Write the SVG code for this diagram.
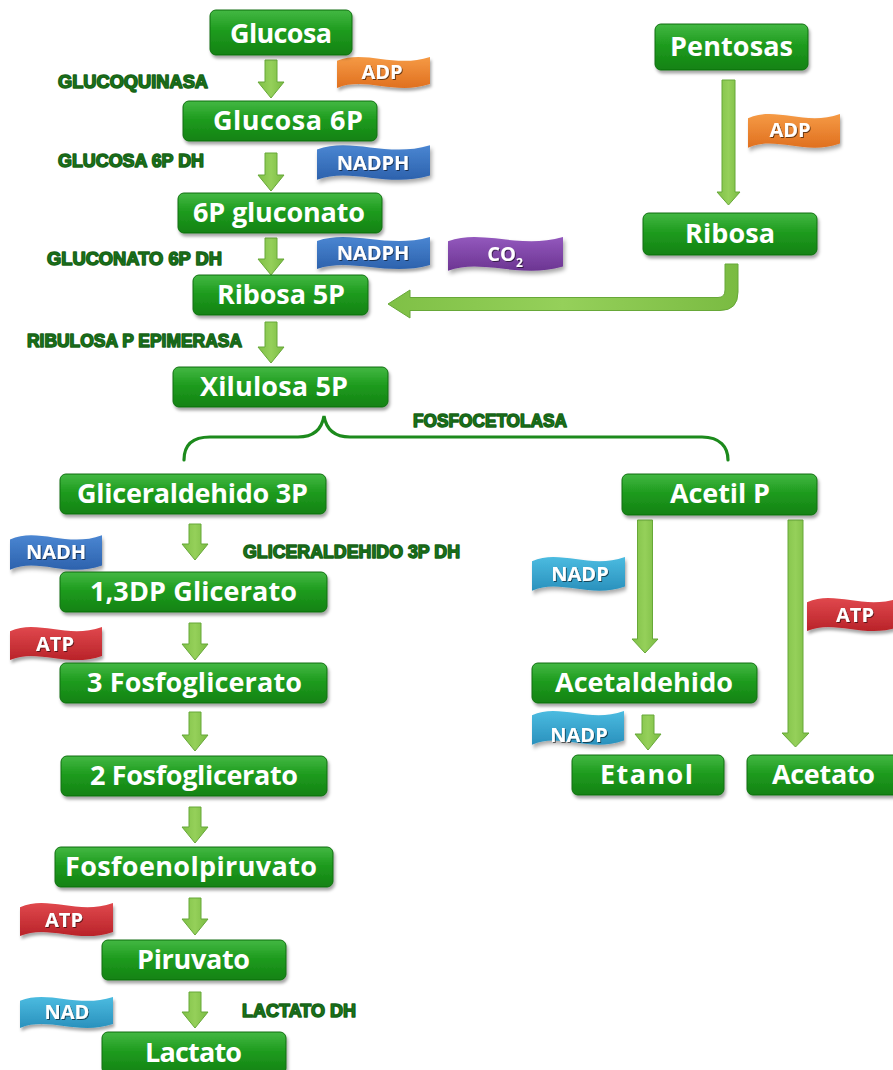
<svg xmlns="http://www.w3.org/2000/svg" width="893" height="1070" viewBox="0 0 893 1070">
  <style>
    .box { fill: url(#gBox); stroke: #0e6f0e; stroke-width: 1; filter: url(#shadow); }
    .lbl { font-family: "Open Sans", "Noto Sans", sans-serif; font-weight: 700; font-size: 27px; fill: #ffffff; }
    .enz { font-family: "Liberation Sans", Arial, sans-serif; font-weight: 700; font-size: 18px; fill: #1c781c; stroke: #176417; stroke-width: 1.5; stroke-linejoin: round; }
    .arr { fill: url(#gArrow); stroke: #67a838; stroke-width: 1; }
    .brace { fill: none; stroke: #1c8a1c; stroke-width: 3.2; stroke-linecap: round; }
    .flagtxt { font-family: "Open Sans", "Noto Sans", sans-serif; font-weight: 700; font-size: 20px; fill: #ffffff; text-anchor: middle; filter: url(#txtShadow); }
  </style>
  <defs>
    <linearGradient id="gBox" x1="0" y1="0" x2="0" y2="1">
      <stop offset="0" stop-color="#43b843"/>
      <stop offset="0.45" stop-color="#1f9c1f"/>
      <stop offset="1" stop-color="#138213"/>
    </linearGradient>
    <linearGradient id="gArrow" x1="0" y1="0" x2="1" y2="0">
      <stop offset="0" stop-color="#7fc046"/>
      <stop offset="0.5" stop-color="#95d05a"/>
      <stop offset="1" stop-color="#7abb42"/>
    </linearGradient>
    <linearGradient id="gOrange" x1="0" y1="0" x2="0" y2="1">
      <stop offset="0" stop-color="#f59a45"/>
      <stop offset="1" stop-color="#e0701f"/>
    </linearGradient>
    <linearGradient id="gBlue" x1="0" y1="0" x2="0" y2="1">
      <stop offset="0" stop-color="#4a86d2"/>
      <stop offset="1" stop-color="#2d62ad"/>
    </linearGradient>
    <linearGradient id="gPurple" x1="0" y1="0" x2="0" y2="1">
      <stop offset="0" stop-color="#9358bd"/>
      <stop offset="1" stop-color="#6c3592"/>
    </linearGradient>
    <linearGradient id="gRed" x1="0" y1="0" x2="0" y2="1">
      <stop offset="0" stop-color="#e0484d"/>
      <stop offset="1" stop-color="#b92329"/>
    </linearGradient>
    <linearGradient id="gCyan" x1="0" y1="0" x2="0" y2="1">
      <stop offset="0" stop-color="#4bbbe0"/>
      <stop offset="1" stop-color="#2a91bd"/>
    </linearGradient>
    <filter id="shadow" x="-10%" y="-20%" width="130%" height="160%">
      <feDropShadow dx="1.5" dy="3" stdDeviation="1.8" flood-color="#000" flood-opacity="0.35"/>
    </filter>
    <filter id="txtShadow" x="-10%" y="-20%" width="130%" height="160%">
      <feDropShadow dx="1" dy="1" stdDeviation="0.6" flood-color="#000" flood-opacity="0.55"/>
    </filter>
    <!-- wave-shaped cofactor banner, 100 x 36 unit box -->
    <path id="flag" d="M0,6 C30,-6 62,14 100,2 L100,30 C62,42 30,22 0,34 Z"/>
  </defs>

  <rect width="893" height="1070" fill="#ffffff"/>

  <!-- connectors -->
  <g id="connectors">
    <path class="arr" d="M265,60 H277 V82 H284 L271,98 L258,82 H265 Z"/>
    <path class="arr" d="M265,153 H277 V175 H284 L271,191 L258,175 H265 Z"/>
    <path class="arr" d="M265,238 H277 V259 H284 L271,275 L258,259 H265 Z"/>
    <path class="arr" d="M265,322 H277 V347 H284 L271,363 L258,347 H265 Z"/>
    <path class="arr" d="M189,524 H201 V544 H208 L195,560 L182,544 H189 Z"/>
    <path class="arr" d="M189,623 H201 V644 H208 L195,660 L182,644 H189 Z"/>
    <path class="arr" d="M189,712 H201 V735 H208 L195,751 L182,735 H189 Z"/>
    <path class="arr" d="M189,807 H201 V827 H208 L195,843 L182,827 H189 Z"/>
    <path class="arr" d="M189,898 H201 V919 H208 L195,935 L182,919 H189 Z"/>
    <path class="arr" d="M189,992 H201 V1012 H208 L195,1028 L182,1012 H189 Z"/>
    <path class="arr" d="M642,715 H654 V734 H661 L648,750 L635,734 H642 Z"/>
    <path class="arr" d="M722,80 H735 V192 H740 L728.5,205 L717,192 H722 Z"/>
    <path class="arr" d="M637.5,520 H652.5 V639 H658 L645,653 L632,639 H637.5 Z"/>
    <path class="arr" d="M788,520 H803 V733 H809 L795.5,747 L782,733 H788 Z"/>
    <path class="arr" d="M725,264 H738 V292 Q738,310.5 720,310.5 H410 V318 L388,304 L410,290 V297.5 H718 Q725,297.5 725,290 Z"/>
    <path class="brace" d="M184,460 C184,445 192,437 210,437 L298,437 C315,437 322,428 324,416 C326,428 333,437 350,437 L702,437 C720,437 728,447 728,460"/>
  </g>

  <!-- enzyme labels -->
  <g id="enzymes">
    <text class="enz" x="58" y="88" textLength="150" lengthAdjust="spacingAndGlyphs">GLUCOQUINASA</text>
    <text class="enz" x="58" y="167" textLength="146" lengthAdjust="spacingAndGlyphs">GLUCOSA 6P DH</text>
    <text class="enz" x="47" y="265" textLength="175" lengthAdjust="spacingAndGlyphs">GLUCONATO 6P DH</text>
    <text class="enz" x="27" y="347" textLength="215" lengthAdjust="spacingAndGlyphs">RIBULOSA P EPIMERASA</text>
    <text class="enz" x="413" y="427" textLength="154" lengthAdjust="spacingAndGlyphs">FOSFOCETOLASA</text>
    <text class="enz" x="243" y="558" textLength="217" lengthAdjust="spacingAndGlyphs">GLICERALDEHIDO 3P DH</text>
    <text class="enz" x="242" y="1017" textLength="114" lengthAdjust="spacingAndGlyphs">LACTATO DH</text>
  </g>

  <!-- cofactor banners -->
  <g id="cof-adp-1">
    <use href="#flag" fill="url(#gOrange)" filter="url(#shadow)" transform="translate(337,55) scale(0.93,0.97)"/>
    <text class="flagtxt" x="382" y="79">ADP</text>
  </g>
  <g id="cof-nadph-1">
    <use href="#flag" fill="url(#gBlue)" filter="url(#shadow)" transform="translate(317,143) scale(1.13,1.08)"/>
    <text class="flagtxt" x="373" y="170">NADPH</text>
  </g>
  <g id="cof-nadph-2">
    <use href="#flag" fill="url(#gBlue)" filter="url(#shadow)" transform="translate(317,235) scale(1.13,1.0)"/>
    <text class="flagtxt" x="373" y="260">NADPH</text>
  </g>
  <g id="cof-co2">
    <use href="#flag" fill="url(#gPurple)" filter="url(#shadow)" transform="translate(448,235) scale(1.15,1.05)"/>
    <text class="flagtxt" x="505" y="261">CO<tspan font-size="12" dy="6">2</tspan></text>
  </g>
  <g id="cof-adp-2">
    <use href="#flag" fill="url(#gOrange)" filter="url(#shadow)" transform="translate(748,112) scale(0.92,1.05)"/>
    <text class="flagtxt" x="790" y="137">ADP</text>
  </g>
  <g id="cof-nadh">
    <use href="#flag" fill="url(#gBlue)" filter="url(#shadow)" transform="translate(10,533) scale(0.92,1.08)"/>
    <text class="flagtxt" x="56" y="559">NADH</text>
  </g>
  <g id="cof-atp-1">
    <use href="#flag" fill="url(#gRed)" filter="url(#shadow)" transform="translate(10,625) scale(0.92,1.03)"/>
    <text class="flagtxt" x="55" y="651">ATP</text>
  </g>
  <g id="cof-nadp-1">
    <use href="#flag" fill="url(#gCyan)" filter="url(#shadow)" transform="translate(532,555) scale(0.93,1.05)"/>
    <text class="flagtxt" x="580" y="581">NADP</text>
  </g>
  <g id="cof-atp-2">
    <use href="#flag" fill="url(#gRed)" filter="url(#shadow)" transform="translate(807,596) scale(0.92,1.03)"/>
    <text class="flagtxt" x="855" y="622">ATP</text>
  </g>
  <g id="cof-nadp-2">
    <use href="#flag" fill="url(#gCyan)" filter="url(#shadow)" transform="translate(532,709) scale(0.92,1.05)"/>
    <text class="flagtxt" x="579" y="742">NADP</text>
  </g>
  <g id="cof-atp-3">
    <use href="#flag" fill="url(#gRed)" filter="url(#shadow)" transform="translate(20,901) scale(0.93,1.03)"/>
    <text class="flagtxt" x="64" y="927">ATP</text>
  </g>
  <g id="cof-nad">
    <use href="#flag" fill="url(#gCyan)" filter="url(#shadow)" transform="translate(20,995) scale(0.93,0.97)"/>
    <text class="flagtxt" x="67" y="1019">NAD</text>
  </g>

  <!-- metabolite nodes -->
  <g id="glucosa">
    <rect class="box" x="210" y="10" width="142" height="45" rx="6"/>
    <text class="lbl" x="230" y="43" textLength="102" lengthAdjust="spacing">Glucosa</text>
  </g>
  <g id="glucosa-6p">
    <rect class="box" x="183" y="101" width="194" height="40" rx="6"/>
    <text class="lbl" x="213" y="130" textLength="150" lengthAdjust="spacing">Glucosa 6P</text>
  </g>
  <g id="gluconato-6p">
    <rect class="box" x="178" y="193" width="204" height="40" rx="6"/>
    <text class="lbl" x="193" y="222" textLength="172" lengthAdjust="spacing">6P gluconato</text>
  </g>
  <g id="ribosa-5p">
    <rect class="box" x="193" y="275" width="175" height="40" rx="6"/>
    <text class="lbl" x="217" y="304" textLength="128" lengthAdjust="spacing">Ribosa 5P</text>
  </g>
  <g id="xilulosa-5p">
    <rect class="box" x="173" y="367" width="215" height="40" rx="6"/>
    <text class="lbl" x="200" y="396" textLength="148" lengthAdjust="spacing">Xilulosa 5P</text>
  </g>
  <g id="pentosas">
    <rect class="box" x="655" y="24" width="153" height="46" rx="6"/>
    <text class="lbl" x="670" y="56" textLength="123" lengthAdjust="spacing">Pentosas</text>
  </g>
  <g id="ribosa">
    <rect class="box" x="643" y="213" width="174" height="42" rx="6"/>
    <text class="lbl" x="685" y="243" textLength="90" lengthAdjust="spacing">Ribosa</text>
  </g>
  <g id="gliceraldehido-3p">
    <rect class="box" x="60" y="474" width="266" height="40" rx="6"/>
    <text class="lbl" x="77" y="503" textLength="231" lengthAdjust="spacing">Gliceraldehido 3P</text>
  </g>
  <g id="dp-glicerato">
    <rect class="box" x="60" y="572" width="267" height="40" rx="6"/>
    <text class="lbl" x="90" y="601" textLength="207" lengthAdjust="spacing">1,3DP Glicerato</text>
  </g>
  <g id="fosfoglicerato-3">
    <rect class="box" x="60" y="663" width="267" height="40" rx="6"/>
    <text class="lbl" x="87" y="692" textLength="215" lengthAdjust="spacing">3 Fosfoglicerato</text>
  </g>
  <g id="fosfoglicerato-2">
    <rect class="box" x="61" y="756" width="266" height="40" rx="6"/>
    <text class="lbl" x="90" y="785" textLength="208" lengthAdjust="spacing">2 Fosfoglicerato</text>
  </g>
  <g id="fosfoenolpiruvato">
    <rect class="box" x="55" y="847" width="278" height="40" rx="6"/>
    <text class="lbl" x="65" y="876" textLength="252" lengthAdjust="spacing">Fosfoenolpiruvato</text>
  </g>
  <g id="piruvato">
    <rect class="box" x="102" y="940" width="184" height="40" rx="6"/>
    <text class="lbl" x="137" y="969" textLength="113" lengthAdjust="spacing">Piruvato</text>
  </g>
  <g id="lactato">
    <rect class="box" x="102" y="1032" width="184" height="42" rx="6"/>
    <text class="lbl" x="145" y="1062" textLength="97" lengthAdjust="spacing">Lactato</text>
  </g>
  <g id="acetil-p">
    <rect class="box" x="622" y="474" width="195" height="41" rx="6"/>
    <text class="lbl" x="670" y="503" textLength="100" lengthAdjust="spacing">Acetil P</text>
  </g>
  <g id="acetaldehido">
    <rect class="box" x="532" y="663" width="225" height="40" rx="6"/>
    <text class="lbl" x="555" y="692" textLength="178" lengthAdjust="spacing">Acetaldehido</text>
  </g>
  <g id="etanol">
    <rect class="box" x="572" y="755" width="152" height="40" rx="6"/>
    <text class="lbl" x="600" y="784" textLength="93" lengthAdjust="spacing">Etanol</text>
  </g>
  <g id="acetato">
    <rect class="box" x="747" y="755" width="156" height="40" rx="6"/>
    <text class="lbl" x="772" y="784" textLength="103" lengthAdjust="spacing">Acetato</text>
  </g>
</svg>
